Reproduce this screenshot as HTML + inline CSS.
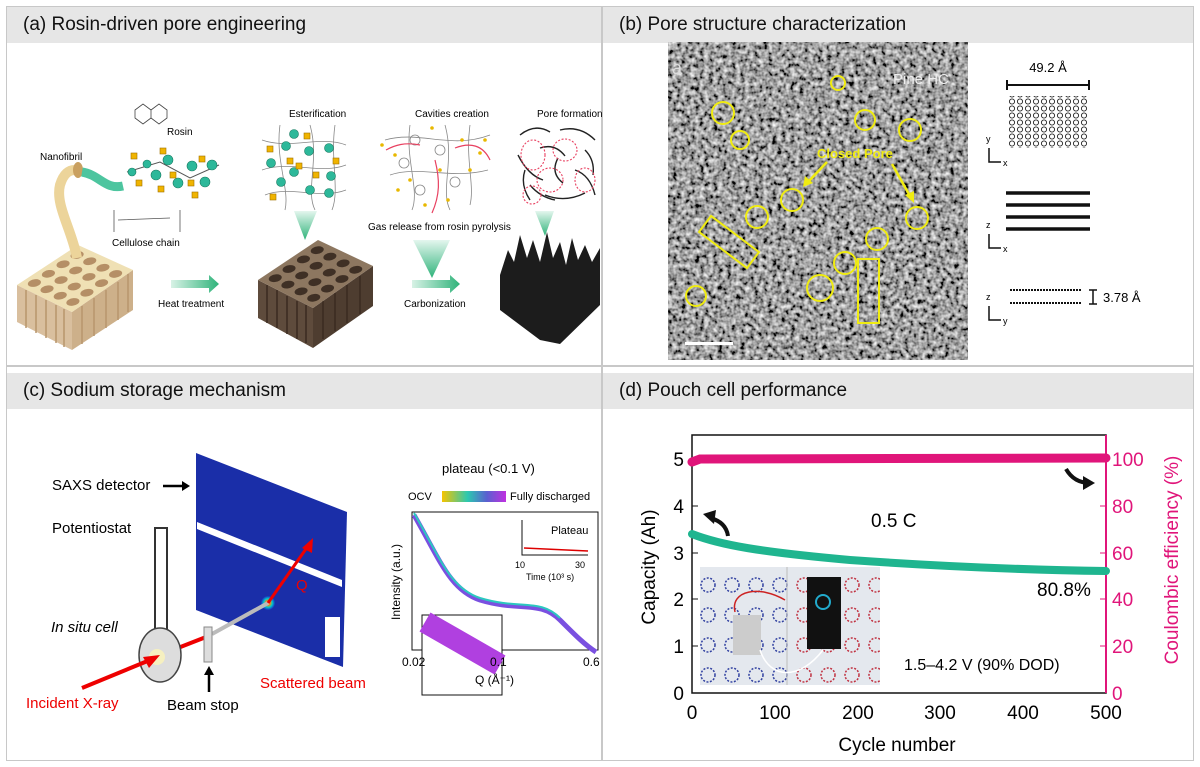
<!DOCTYPE html><html><head><style>
body{margin:0;width:1200px;height:767px;background:#fff;font-family:"Liberation Sans",sans-serif;position:relative;overflow:hidden}
.p{position:absolute;border:1px solid #c8c8c8;box-sizing:border-box}
.h{position:absolute;background:#e6e6e6;height:36px;left:0;right:0;top:0;font-size:19px;line-height:36px;padding-left:16px;color:#111}
svg{position:absolute;left:0;top:0}
</style></head><body>
<div class="p" style="left:6px;top:6px;width:596px;height:360px"><div class="h">(a) Rosin-driven pore engineering</div></div>
<div class="p" style="left:602px;top:6px;width:592px;height:360px"><div class="h">(b) Pore structure characterization</div></div>
<div class="p" style="left:6px;top:366px;width:596px;height:395px"><div class="h" style="top:6px">(c) Sodium storage mechanism</div></div>
<div class="p" style="left:602px;top:366px;width:592px;height:395px"><div class="h" style="top:6px">(d) Pouch cell performance</div></div>
<svg width="1200" height="767" font-family="Liberation Sans, sans-serif">
<defs>
<filter id="n" x="0" y="0" width="1" height="1"><feTurbulence type="fractalNoise" baseFrequency="0.22" numOctaves="2" seed="3"/><feColorMatrix type="matrix" values="1.5 0 0 0 -0.4 1.5 0 0 0 -0.4 1.5 0 0 0 -0.4 0 0 0 0 1"/></filter>
<linearGradient id="cb" x1="0" x2="1"><stop offset="0" stop-color="#f5c400"/><stop offset=".4" stop-color="#2cc8b0"/><stop offset=".7" stop-color="#5a60d0"/><stop offset="1" stop-color="#c030e0"/></linearGradient>
<linearGradient id="ga" x1="0" x2="1"><stop offset="0" stop-color="#d8f2e6"/><stop offset="1" stop-color="#2fb37a"/></linearGradient>
<linearGradient id="gt" x1="0" y1="0" x2="0" y2="1"><stop offset="0" stop-color="#e4f6ee"/><stop offset="1" stop-color="#2fb37a"/></linearGradient>
<radialGradient id="sp"><stop offset="0" stop-color="#fff"/><stop offset=".3" stop-color="#f80"/><stop offset=".6" stop-color="#0cc"/><stop offset="1" stop-color="#1830c0"/></radialGradient>
<pattern id="hex" width="8" height="7" patternUnits="userSpaceOnUse"><circle cx="4" cy="3.5" r="2.6" fill="none" stroke="#222" stroke-width="0.9"/></pattern>
<pattern id="ring" width="24" height="30" patternUnits="userSpaceOnUse"><circle cx="12" cy="15" r="7" fill="none" stroke="#3040a0" stroke-width="1.5" stroke-dasharray="2 1.5"/></pattern>
<pattern id="ringr" width="24" height="30" patternUnits="userSpaceOnUse"><circle cx="12" cy="15" r="7" fill="none" stroke="#c03040" stroke-width="1.5" stroke-dasharray="2 1.5"/></pattern>
</defs>
<!-- panel a -->
<g>
<polygon points="17,285 17,322 72,350 72,312" fill="#d9bf9e"/>
<polygon points="72,312 72,350 133,310 133,270" fill="#cdb08a"/>
<g stroke="#b8966c" stroke-width="1.5"><path d="M26,290V328 M36,295V333 M46,300V338 M56,305V343 M64,309V347 M82,306V344 M94,298V336 M106,290V328 M118,282V320 M128,274V312"/></g>
<polygon points="17,285 78,245 133,270 72,312" fill="#efe0b4"/>
<g transform="matrix(0.61,-0.40,0.55,0.27,17,285)" fill="#b58f66"><circle cx="15" cy="15" r="8"/><circle cx="38" cy="15" r="8"/><circle cx="62" cy="15" r="8"/><circle cx="85" cy="15" r="8"/><circle cx="15" cy="38" r="8"/><circle cx="38" cy="38" r="8"/><circle cx="62" cy="38" r="8"/><circle cx="85" cy="38" r="8"/><circle cx="15" cy="62" r="8"/><circle cx="38" cy="62" r="8"/><circle cx="62" cy="62" r="8"/><circle cx="85" cy="62" r="8"/><circle cx="15" cy="85" r="8"/><circle cx="38" cy="85" r="8"/><circle cx="62" cy="85" r="8"/><circle cx="85" cy="85" r="8"/></g>
<path d="M77,258 C72,230 55,205 60,185 C64,172 70,170 75,170" stroke="#ecd49a" stroke-width="10" fill="none"/>
<ellipse cx="78" cy="170" rx="5" ry="8" fill="#c9a060"/>
<path d="M82,172 C100,175 105,190 123,186" stroke="#4dc59f" stroke-width="9" fill="none"/>
<text x="40" y="160" font-size="10">Nanofibril</text><text x="167" y="135" font-size="10">Rosin</text>
<path d="M135,110 l8,-6 l8,6 l0,8 l-8,6 l-8,-6z M151,110 l8,-6 l8,6 l0,8 l-8,6 l-8,-6z" fill="none" stroke="#444" stroke-width="0.8"/>
<path d="M127,172 L160,162 L190,178 L219,165" stroke="#555" fill="none"/>
<g fill="#2db89a" stroke="#187a60" stroke-width="0.6"><circle cx="132" cy="172" r="4"/><circle cx="147" cy="164" r="4"/><circle cx="156" cy="175" r="5"/><circle cx="168" cy="160" r="5"/><circle cx="178" cy="183" r="5"/><circle cx="192" cy="166" r="5"/><circle cx="205" cy="182" r="5"/><circle cx="212" cy="165" r="5"/></g>
<g fill="#f0b400" stroke="#a07000" stroke-width="0.6"><rect x="131" y="153" width="6" height="6"/><rect x="160" y="148" width="6" height="6"/><rect x="136" y="180" width="6" height="6"/><rect x="170" y="172" width="6" height="6"/><rect x="158" y="186" width="6" height="6"/><rect x="188" y="180" width="6" height="6"/><rect x="199" y="156" width="6" height="6"/><rect x="192" y="192" width="6" height="6"/></g>
<path d="M114,210 V232 M180,210 V232 M118,220 L170,218" stroke="#555" fill="none" stroke-width="0.8"/>
<text x="112" y="246" font-size="10">Cellulose chain</text>
<polygon points="171,280 209,280 209,275 219,284 209,293 209,288 171,288" fill="url(#ga)"/><text x="158" y="307" font-size="10">Heat treatment</text>
<polygon points="258,280 258,318 313,348 313,308" fill="#5e4b3c"/>
<polygon points="313,308 313,348 373,306 373,266" fill="#4e3d30"/>
<g stroke="#3a2b20" stroke-width="1.5"><path d="M267,285V323 M277,290V328 M287,296V334 M297,301V339 M306,305V343 M323,301V339 M335,293V331 M347,285V323 M360,276V314"/></g>
<polygon points="258,280 318,240 373,266 313,308" fill="#8d7760"/>
<g transform="matrix(0.60,-0.40,0.55,0.28,258,280)" fill="#3f3025"><circle cx="15" cy="15" r="8"/><circle cx="38" cy="15" r="8"/><circle cx="62" cy="15" r="8"/><circle cx="85" cy="15" r="8"/><circle cx="15" cy="38" r="8"/><circle cx="38" cy="38" r="8"/><circle cx="62" cy="38" r="8"/><circle cx="85" cy="38" r="8"/><circle cx="15" cy="62" r="8"/><circle cx="38" cy="62" r="8"/><circle cx="62" cy="62" r="8"/><circle cx="85" cy="62" r="8"/><circle cx="15" cy="85" r="8"/><circle cx="38" cy="85" r="8"/><circle cx="62" cy="85" r="8"/><circle cx="85" cy="85" r="8"/></g>
<text x="289" y="117" font-size="10">Esterification</text>
<g stroke="#888" fill="none" stroke-width="0.8"><path d="M262,140 C290,150 320,135 346,145 M262,170 C290,160 320,175 346,165 M265,195 C290,185 320,200 346,190 M280,125 C275,160 290,190 285,210 M310,125 C320,160 305,190 315,210 M335,125 C330,160 340,190 332,210"/></g>
<g fill="#2db89a" stroke="#187a60" stroke-width="0.6"><circle cx="294" cy="134" r="4.5"/><circle cx="286" cy="146" r="4.5"/><circle cx="309" cy="151" r="4.5"/><circle cx="329" cy="148" r="4.5"/><circle cx="271" cy="163" r="4.5"/><circle cx="294" cy="172" r="4.5"/><circle cx="331" cy="176" r="4.5"/><circle cx="281" cy="182" r="4.5"/><circle cx="310" cy="190" r="4.5"/><circle cx="329" cy="193" r="4.5"/></g>
<g fill="#f0b400" stroke="#a07000" stroke-width="0.6"><rect x="304" y="133" width="6" height="6"/><rect x="267" y="146" width="6" height="6"/><rect x="287" y="158" width="6" height="6"/><rect x="296" y="163" width="6" height="6"/><rect x="333" y="158" width="6" height="6"/><rect x="313" y="172" width="6" height="6"/><rect x="270" y="194" width="6" height="6"/></g>
<polygon points="294,211 317,211 305,240" fill="url(#gt)"/>
<text x="415" y="117" font-size="10">Cavities creation</text>
<g stroke="#888" fill="none" stroke-width="0.8"><path d="M385,140 C420,130 450,150 490,135 M390,175 C420,165 450,180 488,170 M410,125 C405,160 420,190 412,210 M445,125 C455,160 440,190 450,210 M470,125 C465,160 475,185 470,205"/><circle cx="415" cy="140" r="5"/><circle cx="440" cy="150" r="5"/><circle cx="404" cy="163" r="5"/><circle cx="455" cy="182" r="5"/><circle cx="420" cy="190" r="5"/></g>
<g fill="#e8b800"><circle cx="382" cy="145" r="1.8"/><circle cx="395" cy="155" r="1.8"/><circle cx="432" cy="128" r="1.8"/><circle cx="462" cy="140" r="1.8"/><circle cx="480" cy="153" r="1.8"/><circle cx="398" cy="190" r="1.8"/><circle cx="425" cy="205" r="1.8"/><circle cx="448" cy="200" r="1.8"/><circle cx="470" cy="170" r="1.8"/><circle cx="410" cy="180" r="1.8"/><circle cx="485" cy="140" r="1.8"/><circle cx="440" cy="170" r="1.8"/></g>
<g stroke="#e84060" fill="none" stroke-width="1.2"><path d="M420,145 C405,142 395,145 386,150 M455,148 C470,142 483,145 490,160 M435,160 C440,180 440,195 432,213"/></g>
<text x="368" y="230" font-size="10">Gas release from rosin pyrolysis</text>
<polygon points="413,240 450,240 432,278" fill="url(#gt)"/>
<polygon points="412,280 450,280 450,275 460,284 450,293 450,288 412,288" fill="url(#ga)"/>
<text x="404" y="307" font-size="10">Carbonization</text>
<text x="537" y="117" font-size="10">Pore formation</text>
<g stroke="#222" fill="none" stroke-width="1.4"><path d="M520,135 q15,-12 30,-3 M560,130 q20,-5 35,10 M518,155 q10,20 25,25 M525,170 q-5,15 5,30 M545,195 q20,8 40,-2 M575,170 q15,5 20,25 M540,148 q15,-5 25,8 M558,158 q-8,15 5,25 M585,150 q10,10 8,25 M530,185 q10,12 25,15"/></g>
<g fill="none" stroke="#e84060" stroke-dasharray="2 1.6" stroke-width="1.1"><ellipse cx="533" cy="155" rx="12" ry="15"/><ellipse cx="565" cy="150" rx="12" ry="11"/><ellipse cx="550" cy="180" rx="13" ry="12"/><ellipse cx="585" cy="180" rx="10" ry="12"/><ellipse cx="532" cy="195" rx="9" ry="9"/></g>
<polygon points="535,211 554,211 545,236" fill="url(#gt)"/>
<polygon points="500,275 508,250 514,262 520,235 527,258 533,240 540,262 547,232 553,258 560,242 566,265 572,238 578,260 585,245 592,262 600,248 600,305 560,344 540,340 500,310" fill="#1c1c1c"/>
</g>
<!-- panel b -->
<rect x="668" y="42" width="300" height="318" fill="#9a9a9a"/>
<rect x="668" y="42" width="300" height="318" filter="url(#n)"/>
<text x="672" y="74" fill="#ddd" font-size="18">a</text>
<g fill="none" stroke="#f0ec10" stroke-width="2"><circle cx="838" cy="83" r="7"/><circle cx="723" cy="113" r="11"/><circle cx="740" cy="140" r="9"/><circle cx="865" cy="120" r="10"/><circle cx="910" cy="130" r="11"/><circle cx="792" cy="200" r="11"/><circle cx="757" cy="217" r="11"/><circle cx="917" cy="218" r="11"/><circle cx="877" cy="239" r="11"/><circle cx="845" cy="263" r="11"/><circle cx="820" cy="288" r="13"/><circle cx="696" cy="296" r="10"/>
<rect x="699" y="232" width="60" height="20" transform="rotate(37 729 242)"/><rect x="858" y="259" width="21" height="64"/></g>
<text x="817" y="158" fill="#f0ec10" font-size="13" font-weight="bold">Closed Pore</text>
<g stroke="#f0ec10" stroke-width="2.5"><path d="M827,162 L808,182 M892,164 L910,196"/></g>
<polygon points="803,187 805,176 813,183" fill="#f0ec10"/><polygon points="914,203 905,195 914,191" fill="#f0ec10"/>
<rect x="685" y="342" width="48" height="3" fill="#fff"/>
<text x="893" y="84" fill="#eee" font-size="15">Pine HC</text>
<text x="1048" y="72" font-size="13" text-anchor="middle">49.2 Å</text>
<path d="M1007,85 H1089 M1007,80 V90 M1089,80 V90" stroke="#111" stroke-width="2"/>
<rect x="1007" y="96" width="82" height="52" fill="url(#hex)"/>
<g stroke="#111" stroke-width="3.5"><path d="M1006,193 H1090 M1006,205 H1090 M1006,217 H1090 M1006,229 H1090"/></g>
<g stroke="#111" stroke-width="2" stroke-dasharray="2 1"><path d="M1010,290 H1082 M1010,303 H1082"/></g>
<path d="M1093,290 V304 M1089,290 H1097 M1089,304 H1097" stroke="#111" stroke-width="1.5"/>
<text x="1103" y="302" font-size="13">3.78 Å</text>
<g fill="none" stroke="#111" stroke-width="1.5"><path d="M989,148 V162 H1001 M989,234 V248 H1001 M989,306 V320 H1001"/></g>
<g font-size="9"><text x="986" y="142">y</text><text x="1003" y="166">x</text><text x="986" y="228">z</text><text x="1003" y="252">x</text><text x="986" y="300">z</text><text x="1003" y="324">y</text></g>
<!-- panel c -->
<polygon points="196,453 347,512 343,667 196,610" fill="#1a2ea8"/>
<polygon points="197,522 342,580 342,587 197,529" fill="#fff"/>
<rect x="325" y="617" width="15" height="40" fill="#fff"/>
<circle cx="268" cy="603" r="7" fill="url(#sp)"/>
<text x="52" y="490" font-size="15">SAXS detector</text><path d="M163,486 H184" stroke="#000" stroke-width="2.5"/><polygon points="190,486 182,481 182,491" fill="#000"/>
<text x="52" y="533" font-size="15">Potentiostat</text>
<path d="M155,648 V528 H167 V648" stroke="#333" fill="none" stroke-width="2"/>
<text x="51" y="632" font-size="15" font-style="italic">In situ cell</text>
<path d="M160,655 L206,637" stroke="#e00" stroke-width="4"/>
<path d="M212,634 L268,603" stroke="#bbb" stroke-width="4"/>
<ellipse cx="160" cy="655" rx="21" ry="27" fill="#ddd" stroke="#444" stroke-width="1.5"/>
<circle cx="157" cy="657" r="8" fill="#f6f0c0"/>
<rect x="204" y="627" width="8" height="35" fill="#ddd" stroke="#888"/>
<path d="M82,688 L150,660" stroke="#e00" stroke-width="4"/><polygon points="160,655 143,657 149,668" fill="#e00"/>
<path d="M268,603 L308,546" stroke="#e00" stroke-width="3"/><polygon points="313,538 302,548 312,553" fill="#e00"/>
<text x="296" y="590" fill="#e00" font-size="15">Q</text>
<text x="26" y="708" fill="#e00" font-size="15">Incident X-ray</text>
<text x="167" y="710" font-size="15">Beam stop</text><path d="M209,692 V673" stroke="#000" stroke-width="2.5"/><polygon points="209,666 204,675 214,675" fill="#000"/>
<text x="260" y="688" fill="#e00" font-size="15">Scattered beam</text>
<text x="442" y="473" font-size="13">plateau  (&lt;0.1 V)</text>
<text x="408" y="500" font-size="11">OCV</text><rect x="442" y="491" width="64" height="11" fill="url(#cb)"/><text x="510" y="500" font-size="11">Fully discharged</text>
<rect x="412" y="512" width="186" height="138" fill="none" stroke="#111"/>
<path d="M414,515 C440,560 450,590 480,600 C520,612 540,600 560,620 C575,635 585,645 596,652" stroke="#7a50e0" stroke-width="5" fill="none"/>
<path d="M414,513 C440,558 450,588 480,598 C520,610 540,598 560,618" stroke="#2cc8c0" stroke-width="2" fill="none"/>
<rect x="422" y="615" width="80" height="80" fill="#fff" stroke="#111"/>
<path d="M425,622 L500,665" stroke="#b040e0" stroke-width="22"/>
<text x="551" y="534" font-size="11">Plateau</text>
<path d="M522,520 V555 H588" stroke="#111" fill="none"/><path d="M524,548 L588,551" stroke="#d00" stroke-width="1.5"/>
<text x="515" y="568" font-size="9">10</text><text x="575" y="568" font-size="9">30</text><text x="526" y="580" font-size="9">Time (10³ s)</text>
<text x="400" y="620" font-size="12" transform="rotate(-90 400 620)">Intensity (a.u.)</text>
<text x="402" y="666" font-size="12">0.02</text><text x="490" y="666" font-size="12">0.1</text><text x="583" y="666" font-size="12">0.6</text>
<text x="475" y="684" font-size="12">Q (Å⁻¹)</text>
<!-- panel d -->
<rect x="692" y="435" width="414" height="258" fill="none" stroke="#111" stroke-width="1.5"/>
<path d="M1106,435 V693" stroke="#e0157a" stroke-width="2"/>
<g font-size="19" text-anchor="end"><text x="684" y="700">0</text><text x="684" y="653">1</text><text x="684" y="606">2</text><text x="684" y="560">3</text><text x="684" y="513">4</text><text x="684" y="466">5</text></g>
<g stroke="#111"><path d="M692,646 h6 M692,599 h6 M692,553 h6 M692,506 h6 M692,459 h6"/></g>
<g stroke="#e0157a"><path d="M1106,646 h-6 M1106,599 h-6 M1106,553 h-6 M1106,506 h-6 M1106,459 h-6"/></g>
<g font-size="19" fill="#e0157a"><text x="1112" y="700">0</text><text x="1112" y="653">20</text><text x="1112" y="606">40</text><text x="1112" y="560">60</text><text x="1112" y="513">80</text><text x="1112" y="466">100</text></g>
<g font-size="19" text-anchor="middle"><text x="692" y="719">0</text><text x="775" y="719">100</text><text x="858" y="719">200</text><text x="940" y="719">300</text><text x="1023" y="719">400</text><text x="1106" y="719">500</text></g>
<text x="897" y="751" font-size="19" text-anchor="middle">Cycle number</text>
<text x="655" y="567" font-size="19" text-anchor="middle" transform="rotate(-90 655 567)">Capacity (Ah)</text>
<text x="1178" y="560" font-size="19" fill="#e0157a" text-anchor="middle" transform="rotate(-90 1178 560)">Coulombic efficiency (%)</text>
<path d="M692,462 L700,459 L1106,458" stroke="#e0157a" stroke-width="9" fill="none" stroke-linecap="round"/>
<path d="M692,534 C720,545 760,552 850,560 C950,567 1030,570 1106,571" stroke="#1fb58f" stroke-width="8" fill="none" stroke-linecap="round"/>
<text x="871" y="527" font-size="19">0.5 C</text><text x="1037" y="596" font-size="19">80.8%</text>
<text x="904" y="670" font-size="16">1.5–4.2 V (90% DOD)</text>
<rect x="700" y="567" width="180" height="118" fill="#e4e8ee"/>
<rect x="700" y="567" width="90" height="118" fill="url(#ring)"/>
<rect x="790" y="567" width="90" height="118" fill="url(#ringr)"/>
<path d="M787,567 V685" stroke="#bbb"/>
<rect x="807" y="577" width="34" height="72" fill="#111"/>
<circle cx="823" cy="602" r="7" fill="none" stroke="#2ac" stroke-width="2"/>
<rect x="733" y="615" width="28" height="40" fill="#ccc"/>
<path d="M735,612 C730,590 760,585 785,600" stroke="#c22" stroke-width="1.5" fill="none"/>
<path d="M760,650 C770,680 800,680 823,650" stroke="#fff" stroke-width="1.5" fill="none"/>
<path d="M728,536 q-2,-14 -18,-18" stroke="#111" stroke-width="4" fill="none"/><polygon points="703,514 716,510 714,524" fill="#111"/>
<path d="M1066,469 q8,14 24,14" stroke="#111" stroke-width="4" fill="none"/><polygon points="1095,483 1083,476 1083,490" fill="#111"/>
</svg></body></html>
